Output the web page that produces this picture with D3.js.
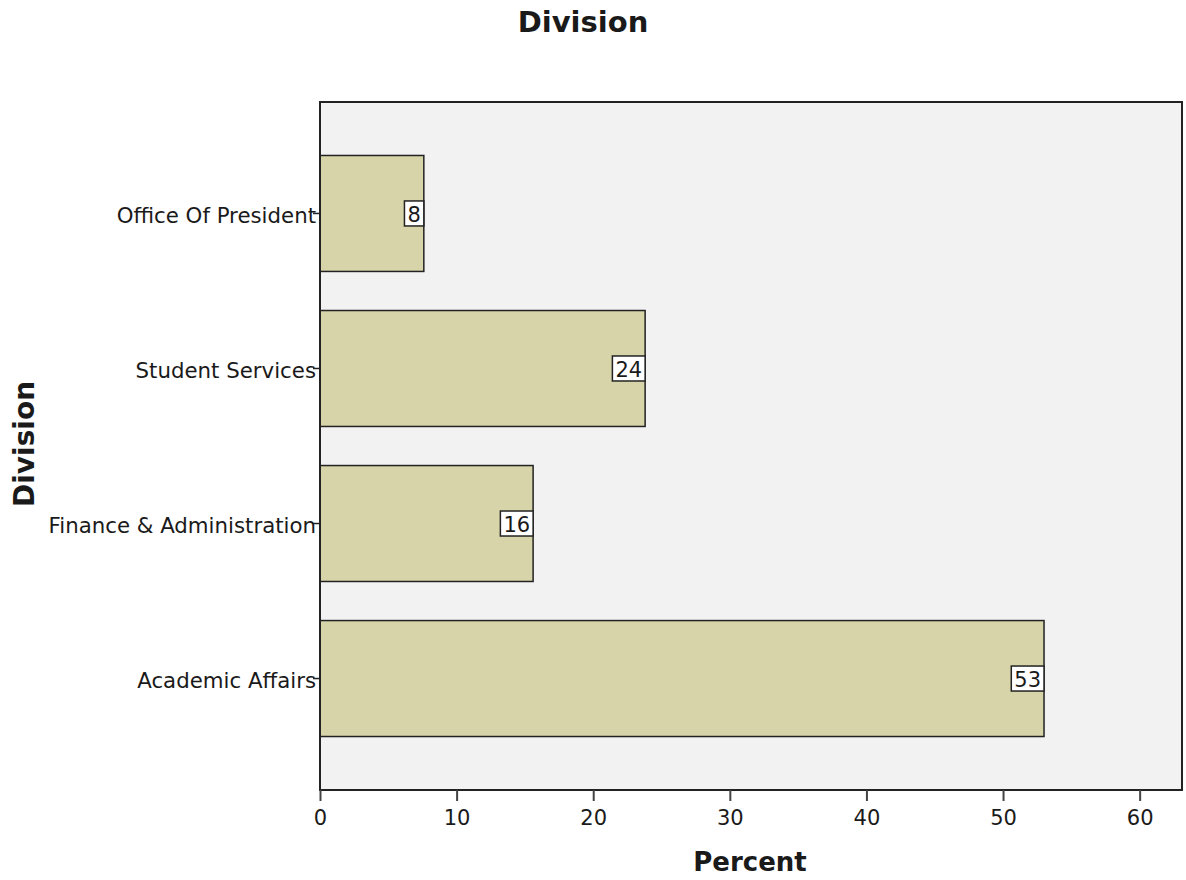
<!DOCTYPE html>
<html>
<head>
<meta charset="utf-8">
<script src="https://cdn.jsdelivr.net/npm/d3@7"></script>
<style>
  html, body { margin: 0; padding: 0; background: #ffffff; }
  svg { display: block; }
  text { font-family: "DejaVu Sans", "Liberation Sans", sans-serif; fill: #1a1a1a; }
</style>
</head>
<body>
<svg id="chart" width="1186" height="880"></svg>
<script>
// Division breakdown, in percent of respondents
const categories = ["Office Of President", "Student Services", "Finance & Administration", "Academic Affairs"];
const percents = [7.6, 23.8, 15.6, 53.0];
const xTicks = [0, 10, 20, 30, 40, 50, 60];

const width = 1186, height = 880;
const margin = { top: 102, right: 4, bottom: 90, left: 320 };
const plotW = width - margin.left - margin.right;
const plotH = height - margin.top - margin.bottom;

const svg = d3.select("#chart");

const x = d3.scaleLinear().domain([0, 63.1]).range([0, plotW]);
const y = d3.scaleBand().domain(categories).range([0, plotH])
  .paddingInner(0.252).paddingOuter(0.345);

const g = svg.append("g").attr("transform", `translate(${margin.left},${margin.top})`);

// plot background
g.append("rect")
  .attr("x", 0).attr("y", 0).attr("width", plotW).attr("height", plotH)
  .attr("fill", "#f2f2f2");

// bars
g.selectAll("rect.bar")
  .data(categories)
  .join("rect")
  .attr("class", "bar")
  .attr("x", x(0))
  .attr("y", d => y(d))
  .attr("width", (d, i) => x(percents[i]) - x(0))
  .attr("height", y.bandwidth())
  .attr("fill", "#d8d4aa")
  .attr("stroke", "#222")
  .attr("stroke-width", 1.5);

// value labels: boxed, flush with the bar end
const fmt = d3.format(".0f");
const labels = g.selectAll("g.val")
  .data(categories)
  .join("g")
  .attr("class", "val")
  .attr("transform", (d, i) => `translate(${x(percents[i])},${y(d) + y.bandwidth() / 2})`);

labels.each(function(d, i) {
  const sel = d3.select(this);
  const t = sel.append("text")
    .attr("x", -3)
    .attr("y", 1)
    .attr("dy", "0.36em")
    .attr("text-anchor", "end")
    .attr("font-size", 21)
    .text(fmt(percents[i]));
  const bb = t.node().getBBox();
  sel.insert("rect", "text")
    .attr("x", bb.x - 3)
    .attr("y", -12.5)
    .attr("width", bb.width + 6)
    .attr("height", 25)
    .attr("fill", "#ffffff")
    .attr("stroke", "#222")
    .attr("stroke-width", 1.5);
});

// frame
g.append("rect")
  .attr("x", 0).attr("y", 0).attr("width", plotW).attr("height", plotH)
  .attr("fill", "none").attr("stroke", "#222").attr("stroke-width", 2);

// x axis
const xAxis = g.append("g")
  .attr("transform", `translate(0,${plotH})`)
  .call(d3.axisBottom(x).tickValues(xTicks).tickSize(11).tickPadding(9).tickFormat(d3.format("d")));
xAxis.select(".domain").remove();
xAxis.selectAll(".tick line").attr("stroke", "#444").attr("stroke-width", 2);
xAxis.selectAll(".tick text").attr("font-size", 21).attr("fill", "#1a1a1a")
  .style("font-family", "'DejaVu Sans', sans-serif");

// y axis
const yAxis = g.append("g")
  .call(d3.axisLeft(y).tickSize(7).tickPadding(3));
yAxis.select(".domain").remove();
yAxis.selectAll(".tick line").attr("stroke", "#222").attr("stroke-width", 1.5);
yAxis.selectAll(".tick text").attr("font-size", 21.3).attr("fill", "#1a1a1a")
  .attr("x", -4).attr("dy", "0.45em")
  .style("font-family", "'DejaVu Sans', sans-serif");

// titles
svg.append("text")
  .attr("x", 583).attr("y", 32)
  .attr("text-anchor", "middle")
  .attr("font-size", 29).attr("font-weight", "bold")
  .text("Division");

svg.append("text")
  .attr("x", 750).attr("y", 871)
  .attr("text-anchor", "middle")
  .attr("font-size", 26).attr("font-weight", "bold")
  .text("Percent");

svg.append("text")
  .attr("transform", "translate(34,444) rotate(-90)")
  .attr("text-anchor", "middle")
  .attr("font-size", 28).attr("font-weight", "bold")
  .text("Division");
</script>
</body>
</html>
